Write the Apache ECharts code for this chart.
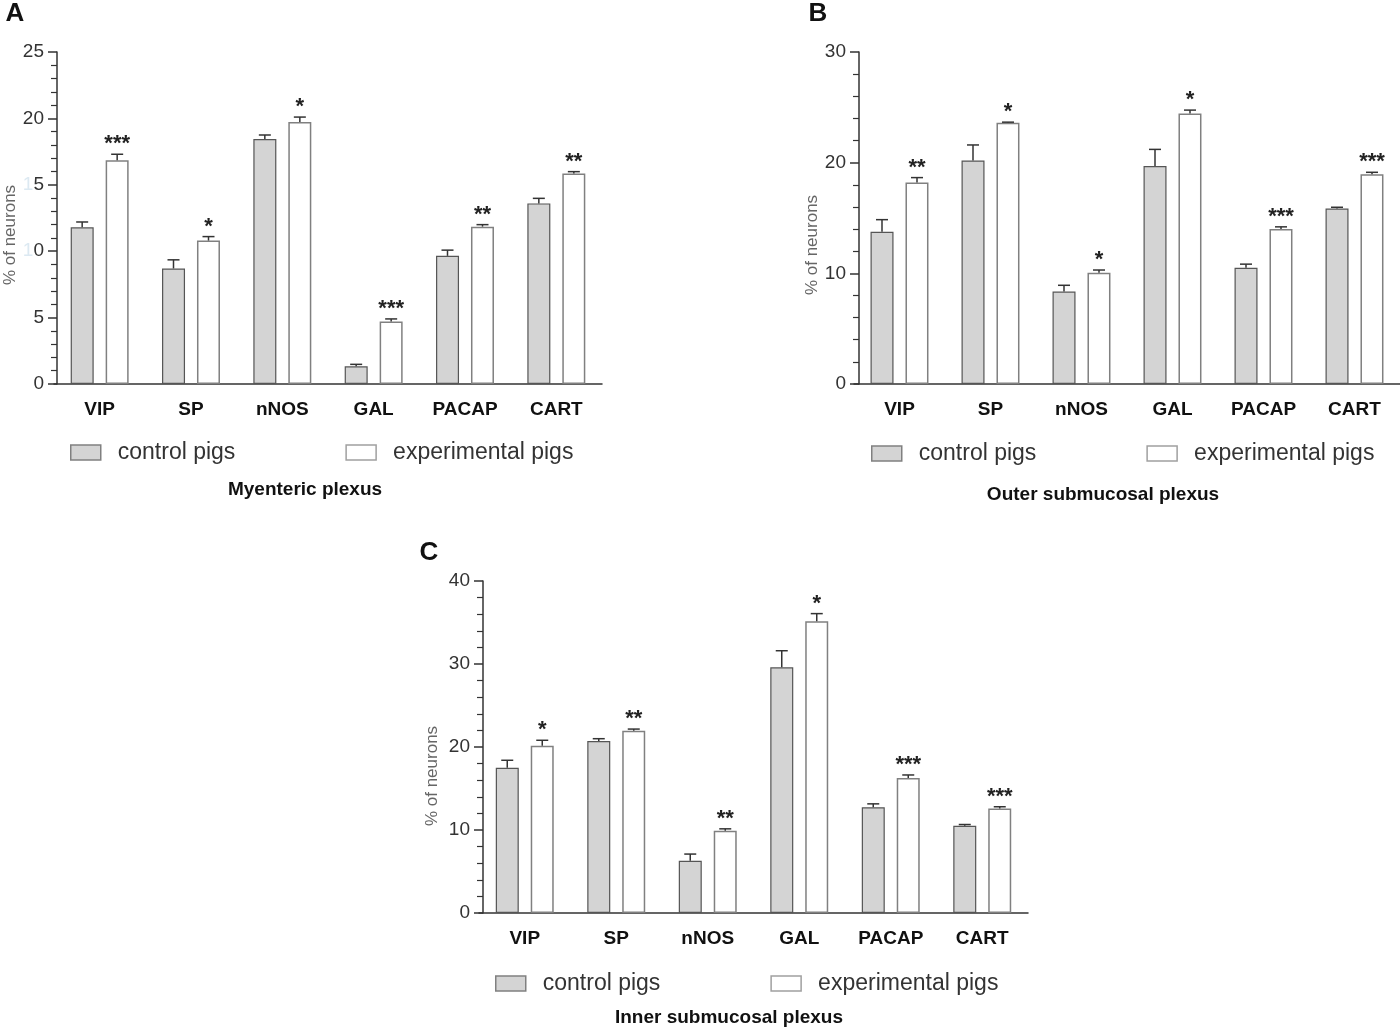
<!DOCTYPE html>
<html>
<head>
<meta charset="utf-8">
<script src="https://cdn.jsdelivr.net/npm/echarts@6/dist/echarts.min.js"></script>
<style>
  html, body { margin: 0; padding: 0; background: #fff; }
  #main { width: 1400px; height: 1031px; }
</style>
</head>
<body>
<div id="main"></div>
<script>
var categories = ['VIP', 'SP', 'nNOS', 'GAL', 'PACAP', 'CART'];

// A - myenteric plexus
var controlA = [11.8, 8.7, 18.45, 1.33, 9.65, 13.6];
var controlErrA = [0.4, 0.65, 0.3, 0.15, 0.43, 0.38];
var expA = [16.85, 10.8, 19.72, 4.7, 11.85, 15.86];
var expErrA = [0.45, 0.3, 0.38, 0.2, 0.15, 0.13];
var sigA = ['***', '*', '*', '***', '**', '**'];

// B - outer submucosal plexus
var controlB = [13.75, 20.2, 8.35, 19.7, 10.5, 15.85];
var controlErrB = [1.1, 1.4, 0.57, 1.5, 0.33, 0.12];
var expB = [18.2, 23.6, 10.05, 24.45, 14.0, 18.95];
var expErrB = [0.45, 0.06, 0.25, 0.3, 0.2, 0.18];
var sigB = ['**', '*', '*', '*', '***', '***'];

// C - inner submucosal plexus
var controlC = [17.5, 20.72, 6.3, 29.6, 12.75, 10.5];
var controlErrC = [0.9, 0.28, 0.8, 2.0, 0.4, 0.16];
var expC = [20.16, 21.96, 9.9, 35.15, 16.27, 12.6];
var expErrC = [0.65, 0.2, 0.24, 0.92, 0.36, 0.2];
var sigC = ['*', '**', '**', '*', '***', '***'];

var myChart = echarts.init(document.getElementById('main'));

var FONT = 'Liberation Sans, Arial, sans-serif';
var BAR_W = 23;
var OFFSET = 17.5;

// error bar (up only) + significance stars
function errRender(offset, sig) {
    return function (params, api) {
        var idx = api.value(0);
        var v = api.value(1);
        var e = api.value(2);
        var x = api.coord([idx, 0])[0] + offset;
        var y0 = api.coord([idx, v])[1];
        var y1 = api.coord([idx, v + e])[1];
        var style = { stroke: '#333', lineWidth: 1.5 };
        var children = [
            { type: 'line', shape: { x1: x, y1: y0, x2: x, y2: y1 }, style: style },
            { type: 'line', shape: { x1: x - 6, y1: y1, x2: x + 6, y2: y1 }, style: style }
        ];
        if (sig) {
            children.push({
                type: 'text',
                x: x, y: y1 + 1,
                style: {
                    text: sig[params.dataIndex],
                    font: 'bold 22px ' + FONT,
                    fill: '#222',
                    align: 'center',
                    verticalAlign: 'bottom'
                }
            });
        }
        return { type: 'group', children: children };
    };
}

function errData(vals, errs) {
    return vals.map(function (v, i) { return [i, v, errs[i]]; });
}

function makeX(i) {
    return {
        type: 'category', gridIndex: i, data: categories,
        axisLine: { lineStyle: { color: '#333', width: 1.5 } },
        axisTick: { alignWithLabel: true, length: 10, lineStyle: { color: '#333', width: 1.5 } },
        axisLabel: { fontFamily: FONT, fontSize: 19, fontWeight: 'bold', color: '#111', margin: 16 }
    };
}

function makeY(i, max, interval, off, gap, shift, fmt) {
    return {
        type: 'value', gridIndex: i, min: 0, max: max, interval: interval, offset: off,
        name: '% of neurons', nameLocation: 'middle', nameGap: gap,
        nameTextStyle: { fontFamily: FONT, fontSize: 17, color: '#666', padding: [0, shift, 0, 0] },
        axisLine: { show: true, lineStyle: { color: '#333', width: 1.5 } },
        axisTick: { show: true, length: 9, lineStyle: { color: '#333', width: 1.5 } },
        minorTick: { show: true, splitNumber: 5, length: 6, lineStyle: { color: '#333', width: 1.2 } },
        splitLine: { show: false },
        axisLabel: {
            fontFamily: FONT, fontSize: 19, color: '#333', margin: 13,
            formatter: fmt,
            rich: {
                f: { fontFamily: FONT, fontSize: 19, color: '#dce9f2' },
                n: { fontFamily: FONT, fontSize: 19, color: '#333' }
            }
        }
    };
}

function barPair(i, ctrl, exp) {
    return [
        {
            name: 'control pigs', type: 'bar', xAxisIndex: i, yAxisIndex: i,
            data: ctrl, barWidth: BAR_W, barGap: '52%',
            itemStyle: { color: '#d4d4d4', borderColor: '#555', borderWidth: 1.2 }
        },
        {
            name: 'experimental pigs', type: 'bar', xAxisIndex: i, yAxisIndex: i,
            data: exp, barWidth: BAR_W, barGap: '52%',
            itemStyle: { color: '#fff', borderColor: '#808080', borderWidth: 1.5 }
        }
    ];
}

function errPair(i, ctrl, ctrlErr, exp, expErr, sig) {
    return [
        { type: 'custom', xAxisIndex: i, yAxisIndex: i, renderItem: errRender(-OFFSET, null), data: errData(ctrl, ctrlErr), z: 5 },
        { type: 'custom', xAxisIndex: i, yAxisIndex: i, renderItem: errRender(OFFSET, sig), data: errData(exp, expErr), z: 5 }
    ];
}

function makeLegend(left, top) {
    return {
        left: left, top: top, orient: 'horizontal', padding: 0,
        data: [
            { name: 'control pigs', itemStyle: { color: '#d4d4d4', borderColor: '#808080', borderWidth: 1.5 } },
            { name: 'experimental pigs', itemStyle: { color: '#fff', borderColor: '#a0a0a0', borderWidth: 1.5 } }
        ],
        icon: 'rect', itemWidth: 30, itemHeight: 15, itemGap: 110,
        selectedMode: false,
        textStyle: { fontFamily: FONT, fontSize: 23, color: '#333', padding: [0, 0, 0, 12] }
    };
}

function titleText(x, y, text, size) {
    return {
        type: 'text', x: x, y: y,
        style: { text: text, font: 'bold ' + size + 'px ' + FONT, fill: '#111', align: 'center', verticalAlign: 'middle' }
    };
}

var fmtA = function (v) {
    if (v === 10 || v === 15) return '{f|1}{n|' + (v % 10) + '}';
    return String(v);
};

var option = {
    animation: false,
    backgroundColor: '#fff',
    grid: [
        { left: 54, top: 52, width: 548, height: 332 },
        { left: 854, top: 52, width: 546, height: 332 },
        { left: 479, top: 581, width: 549, height: 332 }
    ],
    xAxis: [makeX(0), makeX(1), makeX(2)],
    yAxis: [
        makeY(0, 25, 5, -3, 37, 34, fmtA),
        makeY(1, 30, 10, -5, 38, 54),
        makeY(2, 40, 10, -4, 42, 58)
    ],
    legend: [makeLegend(70, 441), makeLegend(871, 442), makeLegend(495, 972)],
    series: [].concat(
        barPair(0, controlA, expA),
        barPair(1, controlB, expB),
        barPair(2, controlC, expC),
        errPair(0, controlA, controlErrA, expA, expErrA, sigA),
        errPair(1, controlB, controlErrB, expB, expErrB, sigB),
        errPair(2, controlC, controlErrC, expC, expErrC, sigC)
    ),
    graphic: [
        titleText(15, 14, 'A', 26),
        titleText(818, 14, 'B', 26),
        titleText(429, 553, 'C', 26),
        titleText(305, 490, 'Myenteric plexus', 19),
        titleText(1103, 495, 'Outer submucosal plexus', 19),
        titleText(729, 1018, 'Inner submucosal plexus', 19)
    ]
};

myChart.setOption(option);
</script>
</body>
</html>
